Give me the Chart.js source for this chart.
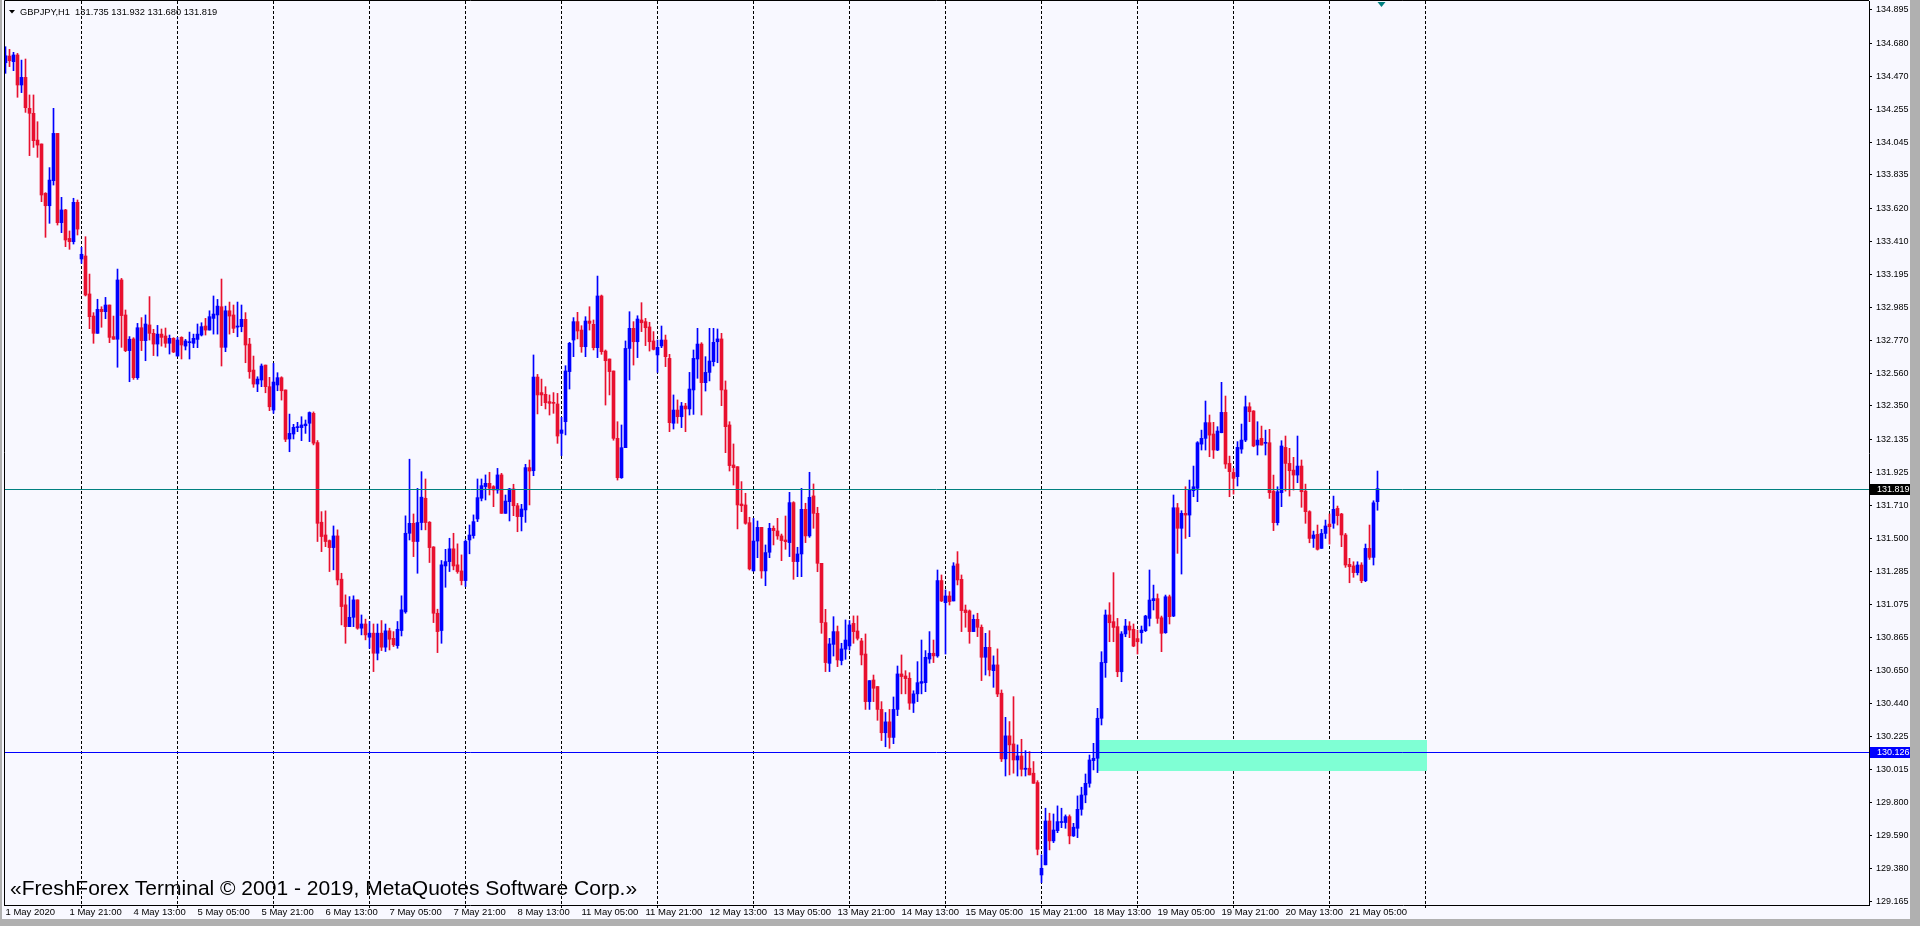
<!DOCTYPE html>
<html><head><meta charset="utf-8">
<script src="https://cdn.jsdelivr.net/npm/chart.js@4.4.1/dist/chart.umd.min.js"></script>
<style>html,body{margin:0;padding:0;background:#F8F8FF;overflow:hidden}canvas{display:block}</style>
</head><body>
<canvas id="c" width="1920" height="926"></canvas>
<script>
const symbolTitle = "GBPJPY,H1  131.735 131.932 131.680 131.819";
const watermark = "\u00ABFreshForex Terminal \u00A9 2001 - 2019, MetaQuotes Software Corp.\u00BB";
const tickLabels = ["1 May 2020","1 May 21:00","4 May 13:00","5 May 05:00","5 May 21:00","6 May 13:00","7 May 05:00","7 May 21:00","8 May 13:00","11 May 05:00","11 May 21:00","12 May 13:00","13 May 05:00","13 May 21:00","14 May 13:00","15 May 05:00","15 May 21:00","18 May 13:00","19 May 05:00","19 May 21:00","20 May 13:00","21 May 05:00"];
const labelTicks = [0,16,32,48,64,80,96,112,128,144,160,176,192,208,224,240,256,272,288,304,320,336];
const daySeparators = [19,43,67,91,115,139,163,187,211,235,259,283,307,331,355];
const priceTicks = [134.895,134.680,134.470,134.255,134.045,133.835,133.620,133.410,133.195,132.985,132.770,132.560,132.350,132.135,131.925,131.710,131.500,131.285,131.075,130.865,130.650,130.440,130.225,130.015,129.800,129.590,129.380,129.165];
const levelLines = [131.819, 130.126];
const zoneTop = 130.203, zoneBottom = 130.002, zoneFrom = 272.9, zoneTo = 355.3;

const opens = [134.556,134.599,134.563,134.606,134.413,134.462,134.263,134.231,134.059,134.034,133.717,133.637,133.798,134.102,133.528,133.610,133.427,133.406,133.659,133.295,
133.314,133.070,132.928,132.817,132.971,132.956,132.999,132.796,132.779,133.160,132.935,132.706,132.781,132.532,132.853,132.770,132.871,132.817,132.748,132.812,
132.800,132.753,132.785,132.671,132.791,132.735,132.757,132.753,132.778,132.806,132.864,132.838,132.913,132.935,132.988,132.727,132.962,132.935,132.857,132.860,
132.907,132.748,132.581,132.491,132.517,132.613,132.474,132.324,132.485,132.532,132.453,132.138,132.170,132.211,132.211,132.223,132.239,132.303,132.115,131.603,
131.521,131.485,131.440,131.515,131.237,131.072,130.932,130.992,131.104,130.922,130.949,130.864,130.890,130.761,130.890,130.800,130.905,130.857,130.810,130.907,
131.027,131.532,131.596,131.479,131.601,131.757,131.603,131.444,131.018,130.907,131.322,131.350,131.432,131.329,131.290,131.228,131.489,131.517,131.624,131.757,
131.832,131.853,131.832,131.810,131.907,131.660,131.735,131.817,131.709,131.639,131.682,131.954,131.934,132.536,132.436,132.425,132.378,132.371,132.363,132.174,
132.249,132.571,132.774,132.892,132.838,132.731,132.896,132.875,132.725,133.057,132.703,132.652,132.575,132.142,131.889,132.082,132.720,132.849,132.763,132.903,
132.892,132.858,132.768,132.678,132.736,132.774,132.656,132.239,132.324,132.281,132.350,132.331,132.453,132.652,132.748,132.500,132.566,132.635,132.763,132.781,
132.453,132.228,131.971,131.960,131.720,131.714,131.600,131.290,131.482,131.570,131.290,131.410,131.564,131.547,131.515,131.489,131.472,131.729,131.350,131.399,
131.686,131.515,131.772,131.660,131.339,130.958,130.696,130.818,130.900,130.714,130.787,130.808,130.953,130.904,130.840,130.756,130.450,130.589,130.547,130.400,
130.250,130.320,130.220,130.400,130.628,130.615,130.600,130.440,130.500,130.568,130.572,130.724,130.761,130.744,131.228,131.086,131.129,131.097,131.335,131.236,
131.039,131.033,130.900,130.979,130.928,130.735,130.799,130.649,130.686,130.504,130.082,130.230,130.178,130.075,130.101,130.015,130.022,129.990,129.930,129.336,
129.401,129.683,129.555,129.621,129.673,129.673,129.711,129.587,129.636,129.758,129.850,129.925,130.071,130.086,130.343,130.700,131.007,130.964,130.932,130.642,
130.885,130.936,130.915,130.855,130.893,130.906,130.985,131.099,131.112,130.989,130.893,131.124,131.000,131.696,131.564,131.660,131.649,131.806,131.821,132.105,
132.142,132.243,132.170,132.067,132.178,132.309,131.981,131.923,131.896,132.073,132.131,132.345,132.318,132.099,132.142,132.110,132.114,131.803,131.600,131.793,
132.084,131.981,131.938,131.906,131.964,131.803,131.671,131.499,131.525,131.435,131.531,131.591,131.596,131.692,131.656,131.521,131.332,131.322,131.279,131.328,
131.227,131.435,131.377,131.735];
const highs = [134.659,134.642,134.623,134.616,134.573,134.580,134.349,134.349,134.177,134.034,133.721,133.882,134.263,134.102,133.691,133.614,133.475,133.685,133.674,133.370,
133.438,133.198,132.950,133.036,132.988,133.048,132.999,132.928,133.230,133.170,132.967,132.796,132.789,132.881,132.918,132.935,133.053,132.843,132.868,132.845,
132.851,132.806,132.789,132.791,132.795,132.778,132.825,132.812,132.877,132.885,132.913,132.962,133.057,133.035,133.166,132.992,133.018,132.999,133.018,132.999,
132.950,132.785,132.671,132.538,132.620,132.613,132.534,132.624,132.564,132.538,132.453,132.298,132.232,132.245,132.281,132.260,132.312,132.312,132.128,131.671,
131.676,131.489,131.579,131.554,131.275,131.136,131.125,131.130,131.104,131.007,130.980,130.965,130.949,130.949,130.971,130.949,130.922,130.900,130.965,131.130,
131.644,132.008,131.656,131.821,131.928,131.881,131.607,131.446,131.044,131.357,131.429,131.500,131.532,131.464,131.393,131.490,131.585,131.650,131.881,131.881,
131.907,131.924,131.838,131.949,131.917,131.778,131.821,131.847,131.724,131.718,131.975,132.003,132.678,132.553,132.523,132.474,132.421,132.436,132.431,132.277,
132.609,132.759,132.918,132.952,132.866,132.924,132.988,132.903,133.185,133.063,132.710,132.652,132.575,132.249,132.228,132.768,132.956,132.892,132.930,133.014,
132.913,132.888,132.828,132.774,132.864,132.806,132.682,132.421,132.389,132.373,132.367,132.566,132.710,132.849,132.757,132.667,132.849,132.849,132.845,132.817,
132.511,132.249,132.106,131.960,131.864,131.789,131.635,131.628,131.611,131.570,131.457,131.596,131.579,131.628,131.527,131.643,131.795,131.735,131.442,131.821,
131.725,131.924,131.849,131.699,131.339,131.043,130.857,130.996,130.936,130.825,130.975,130.971,131.001,131.001,130.857,130.885,130.585,130.621,130.547,130.450,
130.380,130.400,130.480,130.679,130.750,130.649,130.636,130.520,130.707,130.846,130.778,130.900,130.846,131.296,131.264,131.168,131.157,131.343,131.414,131.264,
131.071,131.039,131.007,131.018,130.943,130.889,130.906,130.744,130.789,130.525,130.349,130.322,130.482,130.172,130.208,130.135,130.129,130.065,129.942,129.465,
129.765,129.733,129.728,129.780,129.765,129.722,129.722,129.668,129.844,129.900,129.985,130.107,130.182,130.407,130.771,131.039,131.086,131.279,130.985,130.900,
130.979,130.964,130.949,130.910,130.936,131.005,131.296,131.199,131.142,131.000,131.135,131.135,131.778,131.724,131.677,131.831,131.874,131.964,132.121,132.195,
132.382,132.292,132.245,132.217,132.502,132.414,132.028,131.949,132.121,132.234,132.414,132.371,132.320,132.249,132.221,132.195,132.200,131.906,131.831,132.127,
132.157,132.078,132.020,132.157,132.003,131.848,131.677,131.546,131.585,131.557,131.617,131.656,131.771,131.707,131.660,131.531,131.371,131.349,131.349,131.343,
131.463,131.585,131.741,131.932];
const lows = [134.488,134.531,134.505,134.334,134.364,134.237,133.959,134.012,133.948,133.663,133.434,133.524,133.770,133.513,133.464,133.374,133.357,133.391,133.449,133.267,
133.057,132.847,132.753,132.817,132.856,132.911,132.757,132.779,132.599,132.727,132.699,132.506,132.521,132.521,132.706,132.641,132.774,132.674,132.671,132.735,
132.727,132.684,132.693,132.671,132.652,132.710,132.652,132.725,132.725,132.800,132.806,132.838,132.812,132.812,132.607,132.699,132.812,132.821,132.795,132.827,
132.628,132.528,132.470,132.442,132.474,132.435,132.320,132.303,132.448,132.388,132.121,132.056,132.138,132.185,132.127,132.174,132.121,132.100,131.479,131.414,
131.446,131.286,131.297,131.200,130.943,130.825,130.932,130.932,130.915,130.879,130.847,130.793,130.643,130.718,130.778,130.772,130.782,130.804,130.793,130.872,
131.018,131.489,131.382,131.275,131.554,131.554,131.344,130.958,130.765,130.825,131.185,131.286,131.297,131.275,131.200,131.190,131.400,131.500,131.607,131.740,
131.746,131.778,131.703,131.789,131.660,131.660,131.611,131.645,131.542,131.547,131.602,131.714,131.902,132.299,132.352,132.331,132.292,132.303,132.110,132.031,
132.164,132.459,132.667,132.781,132.695,132.667,132.838,132.710,132.661,132.682,132.356,132.421,132.130,131.874,131.885,132.082,132.517,132.613,132.661,132.828,
132.738,132.703,132.710,132.566,132.725,132.603,132.185,132.202,132.239,132.211,132.185,132.292,132.296,132.528,132.292,132.446,132.511,132.607,132.628,132.352,
132.050,131.932,131.842,131.560,131.671,131.590,131.296,131.290,131.375,131.243,131.195,131.375,131.457,131.493,131.356,131.429,131.382,131.236,131.253,131.253,
131.472,131.506,131.564,131.285,130.889,130.643,130.643,130.743,130.675,130.686,130.722,130.782,130.825,130.846,130.686,130.400,130.400,130.450,130.330,130.200,
130.160,130.150,130.180,130.360,130.500,130.500,130.400,130.380,130.450,130.500,130.514,130.697,130.701,130.735,131.093,130.756,131.071,131.097,131.200,130.900,
130.928,130.825,130.900,130.868,130.585,130.621,130.615,130.542,130.482,130.065,129.972,129.979,129.990,129.972,129.972,129.972,129.979,129.925,129.465,129.287,
129.401,129.497,129.544,129.608,129.640,129.636,129.536,129.583,129.576,129.720,129.800,129.900,130.011,129.994,130.300,130.606,130.835,130.835,130.610,130.578,
130.867,130.861,130.803,130.756,130.825,130.900,130.936,131.039,130.953,130.771,130.889,130.949,130.996,131.403,131.270,131.499,131.510,131.767,131.735,132.067,
132.067,132.024,132.013,132.063,132.178,131.949,131.767,131.784,131.836,132.046,132.121,132.249,132.088,132.035,132.099,132.035,131.756,131.549,131.585,131.703,
131.803,131.771,131.810,131.857,131.699,131.596,131.471,131.441,131.424,131.435,131.499,131.463,131.564,131.585,131.446,131.313,131.214,131.249,131.264,131.214,
131.221,131.364,131.328,131.680];
const closes = [134.601,134.569,134.606,134.413,134.462,134.267,134.231,134.055,134.027,133.706,133.637,133.802,134.102,133.528,133.610,133.417,133.406,133.659,133.487,133.325,
133.063,132.924,132.817,132.971,132.956,132.999,132.791,132.779,133.160,132.931,132.706,132.779,132.532,132.853,132.770,132.877,132.817,132.748,132.812,132.791,
132.753,132.785,132.697,132.774,132.742,132.768,132.763,132.785,132.812,132.860,132.838,132.924,132.941,132.992,132.727,132.962,132.928,132.849,132.864,132.907,
132.742,132.570,132.491,132.523,132.607,132.474,132.345,132.504,132.532,132.448,132.136,132.174,132.213,132.217,132.228,132.234,132.308,132.111,131.596,131.511,
131.479,131.440,131.515,131.232,131.061,130.932,130.992,131.104,130.922,130.949,130.879,130.890,130.761,130.890,130.800,130.905,130.851,130.815,130.915,131.040,
131.532,131.596,131.479,131.601,131.764,131.601,131.440,131.018,130.900,131.329,131.350,131.432,131.322,131.286,131.228,131.480,131.521,131.607,131.761,131.838,
131.853,131.821,131.810,131.907,131.660,131.739,131.817,131.709,131.639,131.688,131.954,131.932,132.536,132.421,132.421,132.371,132.367,132.367,132.157,132.196,
132.575,132.753,132.892,132.832,132.731,132.896,132.881,132.725,133.057,132.699,132.641,132.571,132.142,131.889,132.082,132.720,132.849,132.763,132.909,132.885,
132.853,132.763,132.714,132.727,132.774,132.667,132.243,132.324,132.281,132.350,132.331,132.459,132.656,132.748,132.500,132.566,132.639,132.759,132.781,132.453,
132.217,131.967,131.954,131.714,131.709,131.596,131.303,131.482,131.570,131.290,131.408,131.564,131.549,131.515,131.485,131.478,131.729,131.350,131.399,131.686,
131.515,131.763,131.660,131.339,130.958,130.701,130.821,130.900,130.718,130.789,130.846,130.943,130.900,130.857,130.750,130.450,130.585,130.536,130.400,130.250,
130.320,130.220,130.400,130.628,130.611,130.598,130.440,130.500,130.572,130.579,130.735,130.761,130.744,131.228,131.097,131.129,131.093,131.322,131.232,131.035,
131.022,130.900,130.979,130.928,130.735,130.799,130.654,130.686,130.499,130.082,130.230,130.172,130.075,130.101,130.015,130.022,129.979,129.925,129.501,129.379,
129.683,129.555,129.625,129.679,129.679,129.711,129.587,129.643,129.758,129.850,129.925,130.075,130.086,130.343,130.702,131.007,130.957,130.927,130.642,130.885,
130.936,130.910,130.807,130.835,130.910,131.000,131.103,131.112,130.985,130.889,131.124,130.996,131.696,131.564,131.660,131.649,131.814,131.831,132.114,132.142,
132.243,132.163,132.067,132.189,132.309,131.977,131.928,131.885,132.084,132.131,132.345,132.313,132.093,132.131,132.099,132.114,131.793,131.600,131.799,132.093,
131.981,131.934,131.906,131.964,131.799,131.671,131.499,131.521,131.429,131.531,131.579,131.574,131.686,131.645,131.521,131.328,131.317,131.279,131.328,131.227,
131.435,131.377,131.728,131.819];

const BLUE = '#0000FF', RED = '#E8102F', TEAL = '#008080';
const FONT = '"Liberation Sans", Arial, sans-serif';
const candleColor = (i) => closes[i] >= opens[i] ? BLUE : RED;

const bodies = opens.map((o, i) => ({x: i, y: [o, closes[i]]}));
const wicks = opens.map((o, i) => ({x: i, y: [lows[i], highs[i]]}));

const overlay = {
  id: 'overlay',
  beforeDraw(chart) {
    const ctx = chart.ctx;
    ctx.save();
    ctx.fillStyle = '#F8F8FF';
    ctx.fillRect(0, 0, 1920, 926);
    ctx.fillStyle = '#B0B0B0';
    ctx.fillRect(0, 0, 2, 926);
    ctx.fillRect(1910, 0, 10, 926);
    ctx.fillRect(0, 919, 1920, 7);
    ctx.restore();
  },
  beforeDatasetsDraw(chart) {
    const {ctx, chartArea: a, scales: {x, y}} = chart;
    ctx.save();
    ctx.strokeStyle = '#000'; ctx.lineWidth = 1; ctx.setLineDash([3, 2]);
    daySeparators.forEach(v => {
      const px = Math.floor(x.getPixelForValue(v)) + 0.5;
      ctx.beginPath(); ctx.moveTo(px, a.top); ctx.lineTo(px, a.bottom + 3); ctx.stroke();
    });
    ctx.setLineDash([]);
    ctx.beginPath(); ctx.rect(a.left, a.top, a.right - a.left, a.bottom - a.top); ctx.clip();
    const x1 = x.getPixelForValue(zoneFrom), x2 = x.getPixelForValue(zoneTo);
    const y1 = y.getPixelForValue(zoneTop), y2 = y.getPixelForValue(zoneBottom);
    ctx.fillStyle = '#7FFFD4';
    ctx.fillRect(Math.round(x1), Math.round(y1), Math.round(x2 - x1), Math.round(y2 - y1));
    ctx.restore();
  },
  afterDatasetsDraw(chart) {
    const {ctx, chartArea: a, scales: {x, y}} = chart;
    ctx.save();
    const cols = [TEAL, BLUE];
    levelLines.forEach((lv, k) => {
      const py = Math.round(y.getPixelForValue(lv)) + 0.5;
      ctx.strokeStyle = cols[k]; ctx.lineWidth = 1;
      ctx.beginPath(); ctx.moveTo(a.left, py); ctx.lineTo(a.right, py); ctx.stroke();
    });
    ctx.strokeStyle = '#000'; ctx.lineWidth = 1;
    ctx.beginPath();
    ctx.moveTo(4.5, a.bottom); ctx.lineTo(4.5, 0.5); ctx.lineTo(a.right, 0.5);
    ctx.stroke();
    const boxCols = ['#000000', BLUE];
    levelLines.forEach((lv, k) => {
      const py = Math.round(y.getPixelForValue(lv));
      ctx.fillStyle = boxCols[k];
      ctx.fillRect(a.right + 1, py - 5, 1910 - a.right - 1, 11);
      ctx.fillStyle = '#FFFFFF';
      ctx.font = '9px ' + FONT;
      ctx.textBaseline = 'middle';
      ctx.textAlign = 'left';
      ctx.fillText(lv.toFixed(3), a.right + 8, py + 0.5);
    });
    const mx = x.getPixelForValue(344);
    ctx.fillStyle = TEAL;
    ctx.beginPath(); ctx.moveTo(mx - 4, 2); ctx.lineTo(mx + 4, 2); ctx.lineTo(mx, 7); ctx.closePath(); ctx.fill();
    ctx.fillStyle = '#000';
    ctx.beginPath(); ctx.moveTo(9, 10); ctx.lineTo(15, 10); ctx.lineTo(12, 13.5); ctx.closePath(); ctx.fill();
    ctx.font = '9.3px ' + FONT;
    ctx.textBaseline = 'middle';
    ctx.textAlign = 'left';
    ctx.fillText(symbolTitle, 20, 12);
    ctx.font = '21px ' + FONT;
    ctx.fillText(watermark, 10, 889);
    ctx.restore();
  }
};

new Chart(document.getElementById('c'), {
  type: 'bar',
  data: {
    datasets: [
      {data: bodies, backgroundColor: (c) => candleColor(c.dataIndex), barThickness: 3, minBarLength: 1, borderWidth: 0, grouped: false, order: 0},
      {data: wicks, backgroundColor: (c) => candleColor(c.dataIndex), barThickness: 1, borderWidth: 0, grouped: false, order: 1}
    ]
  },
  options: {
    responsive: false,
    animation: false,
    events: [],
    layout: {padding: {left: 4, right: 10, top: 1, bottom: 0}},
    plugins: {legend: {display: false}, tooltip: {enabled: false}},
    scales: {
      x: {
        type: 'linear', position: 'bottom', min: -0.375, max: 465.875, offset: false, bounds: 'data',
        afterBuildTicks: (s) => { s.ticks = labelTicks.map(v => ({value: v})); },
        afterFit: (s) => { s.height = 21; s.paddingLeft = 0; s.paddingRight = 0; },
        ticks: {autoSkip: false, maxRotation: 0, minRotation: 0, align: 'start', color: '#000', padding: 2,
          font: {family: FONT, size: 9.5},
          callback: (v) => tickLabels[labelTicks.indexOf(v)]},
        grid: {display: false, drawTicks: false, tickLength: 0},
        border: {display: true, color: '#000', width: 1}
      },
      y: {
        type: 'linear', position: 'right', min: 129.143, max: 134.9528, bounds: 'data',
        afterBuildTicks: (s) => { s.ticks = priceTicks.map(v => ({value: v})); },
        afterFit: (s) => { s.width = 41; s.paddingTop = 0; s.paddingBottom = 0; },
        ticks: {autoSkip: false, color: '#000', padding: 4, font: {family: FONT, size: 9},
          callback: (v) => v.toFixed(3)},
        grid: {display: true, drawOnChartArea: false, drawTicks: true, tickLength: 3, color: '#000'},
        border: {display: true, color: '#000', width: 1}
      }
    }
  },
  plugins: [overlay]
});
</script>
</body></html>
